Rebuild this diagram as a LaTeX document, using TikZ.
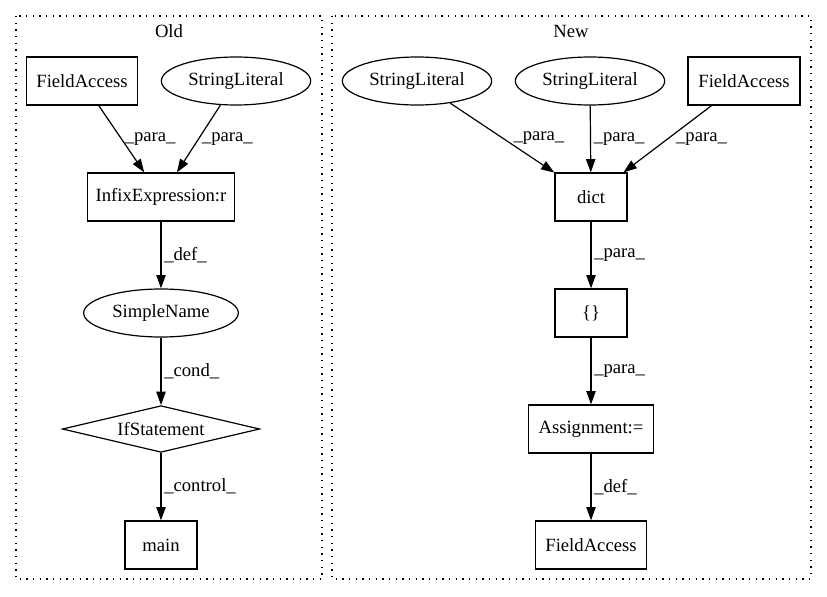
\documentclass[tikz,border=0pt]{standalone}
\usepackage{fontspec}
\setmainfont{Liberation Serif}
\usetikzlibrary{arrows.meta, positioning, shapes.geometric}

\begin{document}
\begin{tikzpicture}[
    x=0.75pt, y=-0.75pt,
    font=\fontsize{14}{16}\selectfont,
    box/.style={rectangle, draw, line width=0.9pt, minimum height=36pt, inner sep=2pt},
    oval/.style={ellipse, draw, line width=0.9pt, minimum width=112pt, minimum height=36pt, inner sep=1pt},
    cond/.style={diamond, draw, line width=0.9pt, minimum width=148pt, minimum height=35pt, aspect=4.2, inner sep=0pt},
    cluster/.style={draw, dash pattern=on 1pt off 4pt, line width=0.9pt},
    arrow/.style={-{Triangle[length=10pt, width=7pt]}, line width=0.9pt},
    lbl/.style={midway, right, inner sep=2pt}
]
    \useasboundingbox (0,0) rectangle (827,596);

    % Clusters
    \draw[cluster] (16,16) rectangle (322,579);
    \node[anchor=base] (oldname) at (169,37) {Old};
    \draw[cluster] (332,16) rectangle (811,579);
    \node[anchor=base] (newname) at (571,37) {New};

    % Old
    \node[box, minimum width=83pt] (oldfa) at (82,81) {FieldAccess};
    \node[oval] (oldsl) at (236,81) {StringLiteral};
    \node[box, minimum width=110pt] (infix) at (161,197) {InfixExpression:r};
    \node[oval, minimum width=116pt] (simple) at (161,313) {SimpleName};
    \node[cond] (ifst) at (161,429) {IfStatement};
    \node[box, minimum width=54pt] (main) at (161,545) {main};

    % New
    \node[oval] (newsla) at (417,81) {StringLiteral};
    \node[oval] (newslb) at (590,81) {StringLiteral};
    \node[box, minimum width=84pt] (newfa) at (744,81) {FieldAccess};
    \node[box, minimum width=54pt] (dict) at (591,197) {dict};
    \node[box, minimum width=54pt] (braces) at (591,313) {\{\}};
    \node[box, minimum width=94pt] (assign) at (591,429) {Assignment:=};
    \node[box, minimum width=83pt] (target) at (591,545) {FieldAccess};

    % Connections
    \draw[arrow] (oldfa) -- (infix) node[lbl] {\_para\_};
    \draw[arrow] (oldsl) -- (infix) node[lbl] {\_para\_};
    \draw[arrow] (infix) -- (simple) node[lbl] {\_def\_};
    \draw[arrow] (simple) -- (ifst) node[lbl] {\_cond\_};
    \draw[arrow] (ifst) -- (main) node[lbl] {\_control\_};

    \draw[arrow] (newsla) -- (dict) node[lbl, xshift=6pt] {\_para\_};
    \draw[arrow] (newslb) -- (dict) node[lbl] {\_para\_};
    \draw[arrow] (newfa) -- (dict) node[lbl, xshift=4pt] {\_para\_};
    \draw[arrow] (dict) -- (braces) node[lbl] {\_para\_};
    \draw[arrow] (braces) -- (assign) node[lbl] {\_para\_};
    \draw[arrow] (assign) -- (target) node[lbl] {\_def\_};
\end{tikzpicture}
\end{document}
